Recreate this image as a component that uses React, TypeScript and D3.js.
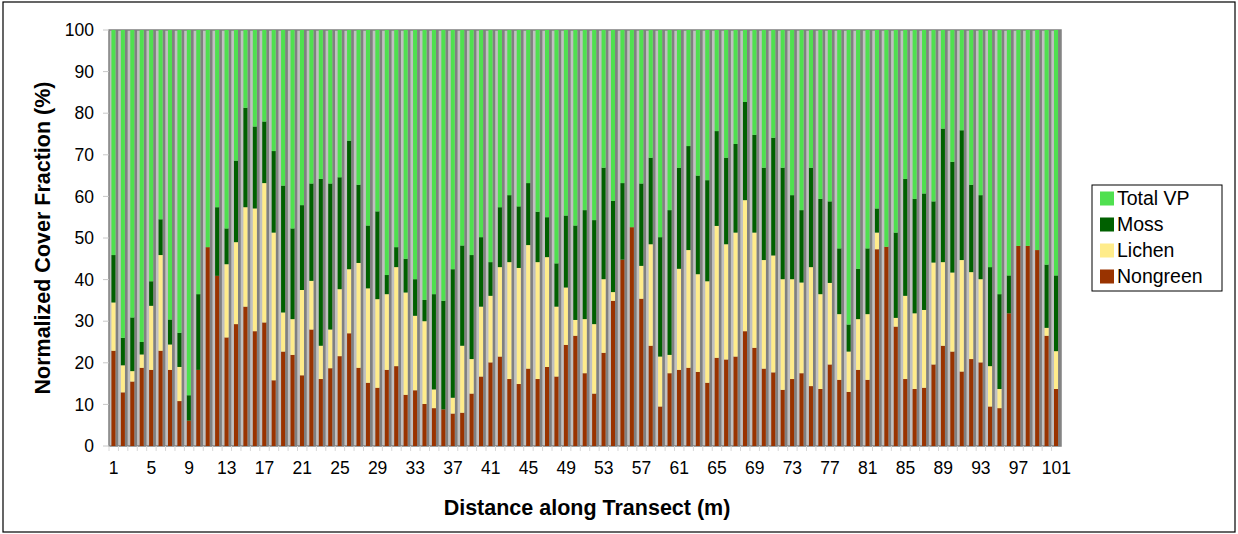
import React from "react";
import * as d3 from "d3";

const distances: number[] = Array.from({ length: 101 }, (_, i) => i + 1);

const nongreen: number[] = [
  22.9, 12.9, 15.5, 18.8, 18.3, 22.9, 18.3, 10.8, 6.1, 18.3,
  47.8, 40.9, 26.1, 29.3, 33.5, 27.6, 29.7, 15.8, 22.7, 21.9,
  17.0, 28.0, 16.1, 18.7, 21.6, 27.1, 18.8, 15.2, 14.0, 18.3,
  19.2, 12.3, 13.4, 10.1, 9.1, 8.8, 7.8, 8.0, 12.6, 16.7,
  20.1, 21.5, 16.1, 14.9, 18.6, 16.1, 19.0, 16.7, 24.3, 26.5,
  17.5, 12.6, 22.4, 34.9, 44.8, 52.6, 35.4, 24.1, 9.5, 17.5,
  18.3, 18.8, 17.8, 15.2, 21.2, 20.8, 21.5, 27.6, 23.6, 18.6,
  17.7, 13.5, 16.1, 17.5, 14.4, 13.7, 19.6, 15.9, 13.0, 18.3,
  15.9, 47.3, 47.9, 28.7, 16.1, 13.7, 14.0, 19.6, 24.1, 22.7,
  17.9, 20.9, 20.1, 9.5, 9.1, 31.9, 48.1, 48.1, 47.1, 26.5,
  13.7,
];

const lichen: number[] = [
  11.6, 6.5, 2.5, 3.2, 15.4, 23.0, 6.1, 8.2, 0, 0,
  0, 0, 17.6, 19.7, 23.9, 29.5, 33.5, 35.5, 9.4, 8.6,
  20.5, 11.7, 8.0, 9.3, 16.1, 15.4, 25.2, 22.7, 21.3, 18.2,
  23.8, 24.6, 17.9, 19.9, 4.5, 0, 3.8, 16.1, 8.3, 16.8,
  16.0, 21.5, 28.1, 27.9, 29.7, 28.1, 26.4, 16.8, 13.8, 3.8,
  13.0, 16.7, 17.7, 2.1, 0, 0, 7.9, 24.4, 12.0, 4.4,
  24.3, 28.3, 23.5, 24.4, 31.7, 27.7, 29.8, 31.5, 27.7, 26.1,
  28.1, 26.6, 24.0, 21.8, 28.6, 22.8, 19.6, 15.8, 9.7, 12.2,
  15.8, 4.0, 0, 2.1, 20.0, 18.2, 18.7, 24.5, 20.1, 19.0,
  26.8, 20.9, 20.0, 9.7, 4.6, 0, 0, 0, 0, 1.9,
  9.1,
];

const moss: number[] = [
  11.4, 6.6, 12.9, 3.0, 5.9, 8.6, 6.0, 8.2, 6.1, 18.2,
  0, 16.5, 8.6, 19.6, 23.9, 19.7, 14.8, 19.6, 30.5, 21.8,
  20.4, 23.4, 40.1, 35.1, 26.9, 30.9, 18.8, 15.1, 21.1, 4.6,
  4.8, 8.1, 8.8, 5.1, 22.9, 26.1, 30.9, 24.1, 25.0, 16.7,
  8.1, 14.4, 16.1, 14.8, 14.9, 12.1, 9.6, 10.4, 17.3, 22.7,
  26.2, 25.0, 26.8, 21.9, 18.4, 0, 19.8, 20.8, 28.7, 34.8,
  24.3, 25.0, 23.7, 24.3, 22.8, 20.8, 21.3, 23.6, 23.5, 22.2,
  28.3, 26.8, 20.2, 17.4, 23.9, 22.9, 19.6, 15.8, 6.5, 12.1,
  15.8, 5.8, 0, 20.5, 28.1, 27.5, 28.0, 14.7, 32.1, 26.6,
  31.2, 21.0, 20.2, 23.8, 22.8, 9.1, 0, 0, 0, 15.2,
  18.2,
];

const totalVP: number[] = [
  54.1, 74.0, 69.1, 75.0, 60.4, 45.5, 69.6, 72.8, 87.8, 63.5,
  52.2, 42.6, 47.7, 31.4, 18.7, 23.2, 22.0, 29.1, 37.4, 47.7,
  42.1, 36.9, 35.8, 36.9, 35.4, 26.6, 37.2, 47.0, 43.6, 58.9,
  52.2, 55.0, 59.9, 64.9, 63.5, 65.1, 57.5, 51.8, 54.1, 49.8,
  55.8, 42.6, 39.7, 42.4, 36.8, 43.7, 45.0, 56.1, 44.6, 47.0,
  43.3, 45.7, 33.1, 41.1, 36.8, 47.4, 36.9, 30.7, 49.8, 43.3,
  33.1, 27.9, 35.0, 36.1, 24.3, 30.7, 27.4, 17.3, 25.2, 33.1,
  25.9, 33.1, 39.7, 43.3, 33.1, 40.6, 41.2, 52.5, 70.8, 57.4,
  52.5, 42.9, 52.1, 48.7, 35.8, 40.6, 39.3, 41.2, 23.7, 31.7,
  24.1, 37.2, 39.7, 57.0, 63.5, 59.0, 51.9, 51.9, 52.9, 56.4,
  59.0,
];

const seriesNames: string[] = ["Nongreen", "Lichen", "Moss", "Total VP"];
const seriesColors: string[] = ["#993300", "#FFEC8B", "#006000", "#4FE04F"];
const yTicks: number[] = [0, 10, 20, 30, 40, 50, 60, 70, 80, 90, 100];
const xTickLabels: number[] = distances.filter((d) => (d - 1) % 4 === 0);

const W = 1238;
const H = 534;
const M = { left: 109, right: 1061, top: 30, bottom: 446 };
const FONT = "'Liberation Sans', Arial, Helvetica, sans-serif";

export default function App() {
  const rows = distances.map((d, i) => ({
    d,
    Nongreen: nongreen[i],
    Lichen: lichen[i],
    Moss: moss[i],
    "Total VP": totalVP[i],
  }));
  const stack = d3.stack<any>().keys(seriesNames);
  const layers = stack(rows);

  const x = d3
    .scaleBand<number>()
    .domain(distances)
    .range([M.left, M.right])
    .paddingInner(0.57)
    .paddingOuter(0.285)
    .align(0.45);
  const slot = x.step();
  const y = d3.scaleLinear().domain([0, 100]).range([M.bottom, M.top]);
  const bw = x.bandwidth();

  return (
    <svg
      width={W}
      height={H}
      style={{ position: "absolute", left: 0, top: 0, background: "#fff" }}
      fontFamily={FONT}
    >
      <rect x={3} y={2} width={1232} height={530} fill="#fff" stroke="#000" strokeWidth={1.2} />
      {/* plot area */}
      <rect x={M.left} y={M.top} width={M.right - M.left} height={M.bottom - M.top} fill="#C0C0C0" stroke="#808080" strokeWidth={1.5} />
      {/* shadows */}
      {distances.map((d) => (
        <rect
          key={"s" + d}
          x={(x(d) as number) + bw}
          y={y(100)}
          width={slot * 0.29}
          height={y(0) - y(100)}
          fill="#808080"
        />
      ))}
      {layers.map((layer, li) => (
        <g key={layer.key} fill={seriesColors[li]}>
          {layer.map((p, i) => (
            <rect
              key={i}
              x={x(distances[i]) as number}
              y={y(p[1])}
              width={bw}
              height={Math.max(0, y(p[0]) - y(p[1]))}
            />
          ))}
        </g>
      ))}
      {/* y axis */}
      {yTicks.map((t) => (
        <g key={"y" + t}>
          <line x1={M.left - 6} x2={M.left} y1={y(t)} y2={y(t)} stroke="#C8C8C8" />
          <text x={94} y={y(t)} dy="0.35em" textAnchor="end" fontSize={17.5} fill="#000">
            {t}
          </text>
        </g>
      ))}
      {/* x ticks */}
      {distances.map((d, i) => (
        <line
          key={"xt" + d}
          x1={M.left + i * slot}
          x2={M.left + i * slot}
          y1={M.bottom}
          y2={M.bottom + 5}
          stroke="#D8D8D8"
        />
      ))}
      {xTickLabels.map((d) => (
        <text
          key={"xl" + d}
          x={M.left + (d - 0.5) * slot}
          y={468}
          dy="0.35em"
          textAnchor="middle"
          fontSize={17.5}
          fill="#000"
        >
          {d}
        </text>
      ))}
      <text
        transform={`translate(50,${(M.top + M.bottom) / 2}) rotate(-90)`}
        textAnchor="middle"
        fontSize={21.5}
        fontWeight="bold"
        fill="#000"
      >
        Normalized Cover Fraction (%)
      </text>
      <text x={587} y={515} textAnchor="middle" fontSize={21.5} fontWeight="bold" fill="#000">
        Distance along Transect (m)
      </text>
      {/* legend */}
      <rect x={1092} y={185} width={130} height={106} fill="#fff" stroke="#000" strokeWidth={1} />
      {[...seriesNames].reverse().map((name, i) => {
        const idx = seriesNames.length - 1 - i;
        const cy = 198.5 + i * 26;
        return (
          <g key={name}>
            <rect x={1100} y={cy - 7} width={14} height={14} fill={seriesColors[idx]} />
            <text x={1117} y={cy} dy="0.35em" fontSize={19.5} fill="#000">
              {name}
            </text>
          </g>
        );
      })}
    </svg>
  );
}
